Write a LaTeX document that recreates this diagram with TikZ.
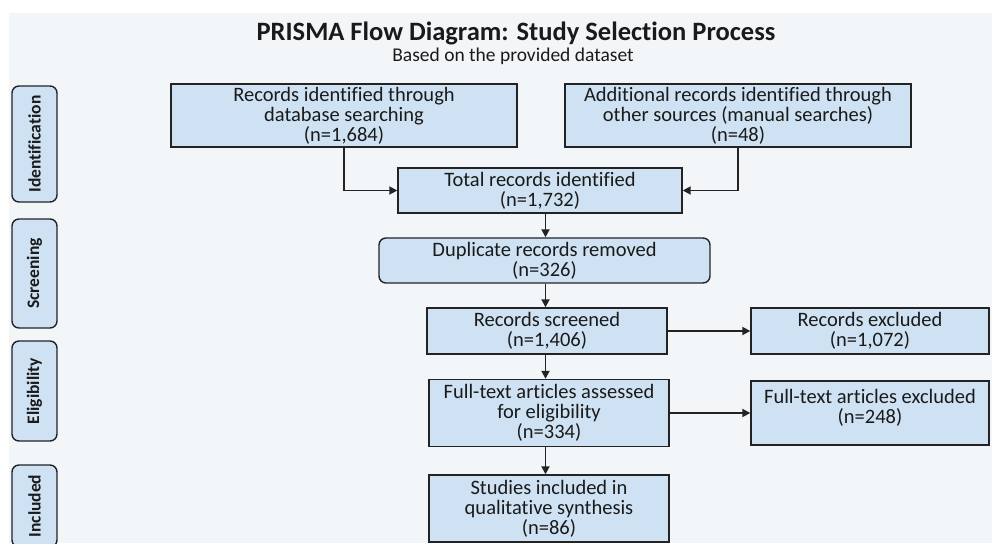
\documentclass[tikz,border=0pt]{standalone}
\usepackage{fontspec}
\setmainfont{Carlito}[Ligatures=NoCommon]
\usetikzlibrary{arrows.meta,calc}
\definecolor{bgc}{HTML}{F3F6F9}
\definecolor{boxc}{HTML}{CFE2F3}
\definecolor{linec}{HTML}{232323}
\definecolor{txtc}{HTML}{1A1A1A}
\begin{document}
\begin{tikzpicture}[x=1pt,y=-1pt,
  flowbox/.style={draw=linec, line width=1.4pt, fill=boxc, inner sep=0pt, align=center,
    text=txtc, font=\fontsize{20.5}{20}\selectfont},
  plaintext/.style={inner sep=0pt, align=center, text=txtc, font=\fontsize{20.5}{20}\selectfont},
  roundbox/.style={flowbox, rounded corners=7pt},
  phasebox/.style={draw=linec, line width=1.4pt, fill=boxc, rounded corners=7pt, inner sep=0pt,
    minimum width=45pt, text=txtc, font=\fontsize{17.5}{19}\selectfont\bfseries},
  conn/.style={draw=linec, line width=1.8pt, -{Triangle[length=8pt,width=8pt]}}]
\useasboundingbox (0,0) rectangle (992,543);
\clip (0,0) rectangle (992,543);
\fill[white] (0,0) rectangle (992,543);
\fill[bgc] (9,13) rectangle (992,543);

% title
\node[anchor=base, inner sep=0pt, text=txtc, font=\fontsize{26.5}{28}\selectfont\bfseries] (title) at (516,40.5) {PRISMA Flow Diagram: Study Selection Process};
\node[anchor=base, inner sep=0pt, text=txtc, font=\fontsize{19.5}{20}\selectfont] (subtitle) at (513,61) {Based on the provided dataset};

% phase labels
\node[phasebox, minimum height=116pt] (ident) at (34.5,144) {\rotatebox{90}{Identification}};
\node[phasebox, minimum height=109pt] (screenlab) at (34.5,273.5) {\rotatebox{90}{Screening}};
\node[phasebox, minimum height=100pt] (elig) at (34.5,391) {\rotatebox{90}{Eligibility}};
\node[phasebox, minimum height=82pt] (incl) at (34.5,506) {\rotatebox{90}{Included}};

% flow boxes
\node[flowbox, minimum width=346pt, minimum height=63pt] (db) at (344,115.5)
  {Records identified through\\database searching\\(n=1,684)};
\node[flowbox, minimum width=346pt, minimum height=63pt] (other) at (738,115.5)
  {Additional records identified through\\other sources (manual searches)\\(n=48)};
\node[flowbox, minimum width=284pt, minimum height=45pt] (total) at (540,190.5)
  {Total records identified\\(n=1,732)};
\node[roundbox, minimum width=331pt, minimum height=45pt] (dup) at (544.5,260.5)
  {Duplicate records removed\\(n=326)};
\node[flowbox, minimum width=240pt, minimum height=46pt] (screened) at (547,331)
  {Records screened\\(n=1,406)};
\node[flowbox, minimum width=240pt, minimum height=67pt] (full) at (549,413)
  {Full-text articles assessed\\for eligibility\\(n=334)};
\node[flowbox, minimum width=240pt, minimum height=67pt] (studies) at (549,508.5)
  {Studies included in\\qualitative synthesis\\(n=86)};
\node[flowbox, minimum width=238pt, minimum height=46pt] (excl) at (870,331)
  {Records excluded\\(n=1,072)};
\node[flowbox, minimum width=238pt, minimum height=64pt] (ftexcl) at (870,413) {};
\node[plaintext] (ftexcltext) at (870,408) {Full-text articles excluded\\(n=248)};

\coordinate (axis) at (545.5,0);

% connectors
\draw[conn] (db.south) |- (total.west);
\draw[conn] (other.south) |- (total.east);
\draw[conn] (total.south -| axis) -- (dup.north -| axis);
\draw[conn] (dup.south -| axis) -- (screened.north -| axis);
\draw[conn] (screened.south -| axis) -- (full.north -| axis);
\draw[conn] (full.south -| axis) -- (studies.north -| axis);
\draw[conn] (screened.east) -- (excl.west);
\draw[conn] (full.east) -- (full.east -| ftexcl.west);
\end{tikzpicture}
\end{document}
